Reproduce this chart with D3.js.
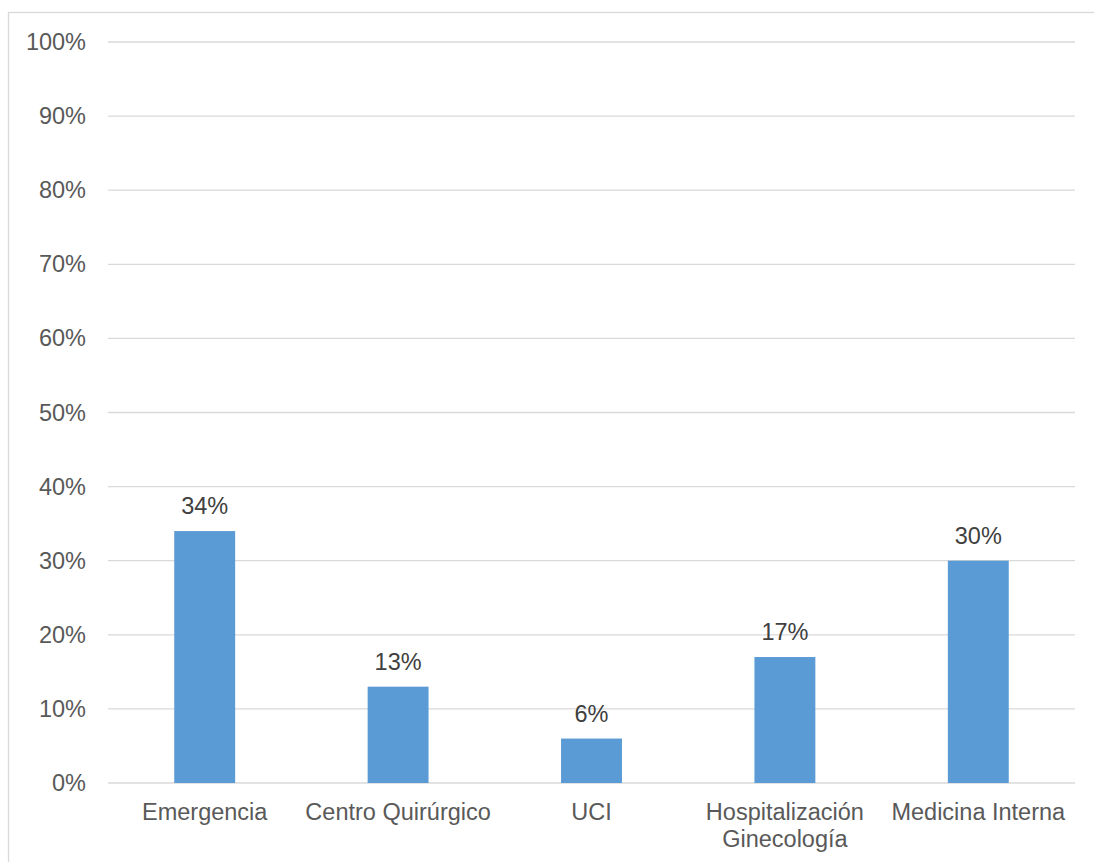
<!DOCTYPE html>
<html>
<head>
<meta charset="utf-8">
<script src="https://cdn.jsdelivr.net/npm/d3@7"></script>
<style>
  html, body { margin: 0; padding: 0; background: #fff; }
  svg text { font-family: "Liberation Sans", Arial, sans-serif; }
</style>
</head>
<body>
<svg id="chart" width="1094" height="862"></svg>
<script>
// Unit distribution (%)
const categories = ["Emergencia", "Centro Quirúrgico", "UCI", "Hospitalización Ginecología", "Medicina Interna"];
const categoryLines = [["Emergencia"], ["Centro Quirúrgico"], ["UCI"], ["Hospitalización", "Ginecología"], ["Medicina Interna"]];
const values = [34, 13, 6, 17, 30];
const yTicks = [0, 10, 20, 30, 40, 50, 60, 70, 80, 90, 100];

const svg = d3.select("#chart");
const W = 1094, H = 862;
const plot = { left: 108, right: 1075, top: 42, bottom: 783 };
const FS = 23.5;

// outer frame
svg.append("rect")
  .attr("x", 8.5).attr("y", 12.5)
  .attr("width", W + 20).attr("height", H + 20)
  .attr("fill", "none").attr("stroke", "#d9d9d9").attr("stroke-width", 1.3);

const x = d3.scaleBand().domain(categories).range([plot.left, plot.right]).paddingInner(0.685).paddingOuter(0.3425);
const y = d3.scaleLinear().domain([0, 100]).range([plot.bottom, plot.top]);

// gridlines
svg.append("g").selectAll("line").data(yTicks).join("line")
  .attr("x1", plot.left).attr("x2", plot.right)
  .attr("y1", d => y(d)).attr("y2", d => y(d))
  .attr("stroke", "#d9d9d9").attr("stroke-width", 1.3);

// y axis labels
const yAxis = d3.axisLeft(y).tickValues(yTicks).tickFormat(d => d + "%").tickSize(0).tickPadding(22);
const gy = svg.append("g").attr("transform", `translate(${plot.left},0)`).call(yAxis);
gy.select(".domain").remove();
gy.selectAll("text").attr("font-size", FS).attr("fill", "#595959")
  .style("font-family", '"Liberation Sans", Arial, sans-serif');

// bars
svg.append("g").selectAll("rect").data(values).join("rect")
  .attr("x", (d, i) => x(categories[i]))
  .attr("y", d => y(d))
  .attr("width", x.bandwidth())
  .attr("height", d => y(0) - y(d))
  .attr("fill", "#5b9bd5");

// value labels
svg.append("g").selectAll("text").data(values).join("text")
  .attr("x", (d, i) => x(categories[i]) + x.bandwidth() / 2)
  .attr("y", d => y(d) - 17)
  .attr("text-anchor", "middle")
  .attr("font-size", FS).attr("fill", "#404040")
  .text(d => d + "%");

// x axis labels
const cx = c => x(c) + x.bandwidth() / 2;
const xl = svg.append("g").selectAll("text").data(categories).join("text")
  .attr("x", c => cx(c))
  .attr("y", 820)
  .attr("text-anchor", "middle")
  .attr("font-size", FS).attr("fill", "#595959");
xl.each(function (c, i) {
  d3.select(this).selectAll("tspan").data(categoryLines[i]).join("tspan")
    .attr("x", cx(c))
    .attr("dy", (d, j) => j === 0 ? 0 : 27)
    .text(d => d);
});
</script>
</body>
</html>
